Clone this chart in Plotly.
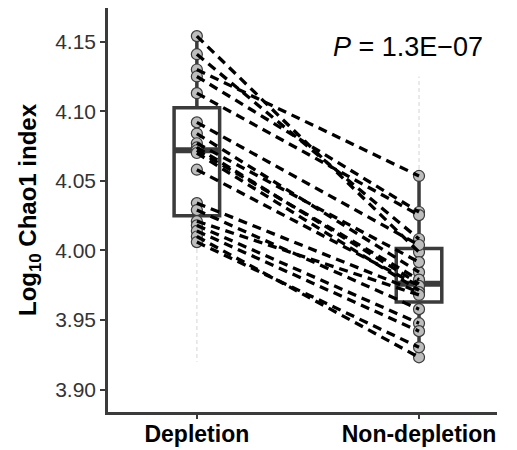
import numpy as np
import plotly.graph_objects as go

categories = ["Depletion", "Non-depletion"]
cat_pos = [1, 2]

depletion = [4.154, 4.141, 4.130, 4.125, 4.113, 4.092, 4.084, 4.077, 4.074, 4.072,
             4.070, 4.058, 4.034, 4.029, 4.021, 4.018, 4.014, 4.010, 4.006]
non_depletion = [3.9988, 4.0082, 4.0535, 4.0276, 4.0254, 4.0039, 3.9844, 3.9916, 3.9760, 3.9790,
                 3.9714, 3.9745, 3.9700, 3.9578, 3.9680, 3.9477, 3.9420, 3.9232, 3.9304]

# faint range guides (reference shows light dotted extensions)
guide_dep = [4.006, 3.920]
guide_non = [4.0535, 4.125]

y_ticks = [3.90, 3.95, 4.00, 4.05, 4.10, 4.15]
p_label = "<i>P</i> = 1.3E\u221207"

FONT = "Liberation Sans, Arial, sans-serif"
DARK = "#3b3b3b"

fig = go.Figure()

# faint guides
fig.add_trace(go.Scatter(x=[cat_pos[0]] * 2, y=guide_dep, mode="lines",
                         line=dict(color="#e3e3e3", width=1.5, dash="4px,3px"),
                         hoverinfo="skip", showlegend=False))
fig.add_trace(go.Scatter(x=[cat_pos[1]] * 2, y=guide_non, mode="lines",
                         line=dict(color="#e3e3e3", width=1.5, dash="4px,3px"),
                         hoverinfo="skip", showlegend=False))

# boxes (ggplot-style quartiles)
for pos, vals in zip(cat_pos, [depletion, non_depletion]):
    v = np.array(vals)
    q1, med, q3 = np.percentile(v, [25, 50, 75])
    iqr = q3 - q1
    lo = v[v >= q1 - 1.5 * iqr].min()
    hi = v[v <= q3 + 1.5 * iqr].max()
    fig.add_trace(go.Box(x=[pos], q1=[q1], median=[med], q3=[q3],
                         lowerfence=[lo], upperfence=[hi], width=0.205,
                         whiskerwidth=0, fillcolor="white",
                         line=dict(color=DARK, width=3.5),
                         boxpoints=False, hoverinfo="skip", showlegend=False))
    fig.add_trace(go.Scatter(x=[pos - 0.1025, pos + 0.1025], y=[med, med], mode="lines",
                             line=dict(color=DARK, width=6),
                             hoverinfo="skip", showlegend=False))

# points
fig.add_trace(go.Scatter(x=[cat_pos[0]] * len(depletion) + [cat_pos[1]] * len(non_depletion),
                         y=depletion + non_depletion, mode="markers",
                         marker=dict(size=11, color="#bdbdbd",
                                     line=dict(color="#3a3a3a", width=1.2)),
                         showlegend=False))

# paired lines
lx, ly = [], []
for a, b in zip(depletion, non_depletion):
    lx += [cat_pos[0], cat_pos[1], None]
    ly += [a, b, None]
fig.add_trace(go.Scatter(x=lx, y=ly, mode="lines",
                         line=dict(color="black", width=3.3, dash="9px,6px"),
                         showlegend=False, hoverinfo="skip"))

fig.add_annotation(x=1.95, y=4.146, xref="x", yref="y", text=p_label,
                   showarrow=False, xanchor="center", yanchor="middle",
                   font=dict(family=FONT, size=27, color="black"))

fig.update_layout(
    width=517, height=450,
    margin=dict(l=108, r=20, t=8, b=38, autoexpand=False),
    paper_bgcolor="white", plot_bgcolor="white",
    font=dict(family=FONT),
    xaxis=dict(range=[0.6, 2.351], tickvals=cat_pos, ticktext=[f"<b>{c}</b>" for c in categories],
               automargin=False, ticklabelstandoff=-4,
               showgrid=False, zeroline=False, showline=True, linecolor=DARK, linewidth=2.5,
               ticks="outside", ticklen=4, tickwidth=1.5, tickcolor=DARK,
               tickfont=dict(family=FONT, size=23, color="black")),
    yaxis=dict(range=[3.8839, 4.1742], tickvals=y_ticks,
               ticktext=[f"{t:.2f}" for t in y_ticks], automargin=False,
               showgrid=False, zeroline=False, showline=True, linecolor=DARK, linewidth=2.5,
               ticks="outside", ticklen=5, tickwidth=1.5, tickcolor=DARK,
               tickfont=dict(family=FONT, size=21, color="#333333"),
               title=dict(text="<b>Log<sub>10</sub> Chao1 index</b>",
                          font=dict(family=FONT, size=24, color="black"), standoff=12)),
)

fig.write_html("out.html")
